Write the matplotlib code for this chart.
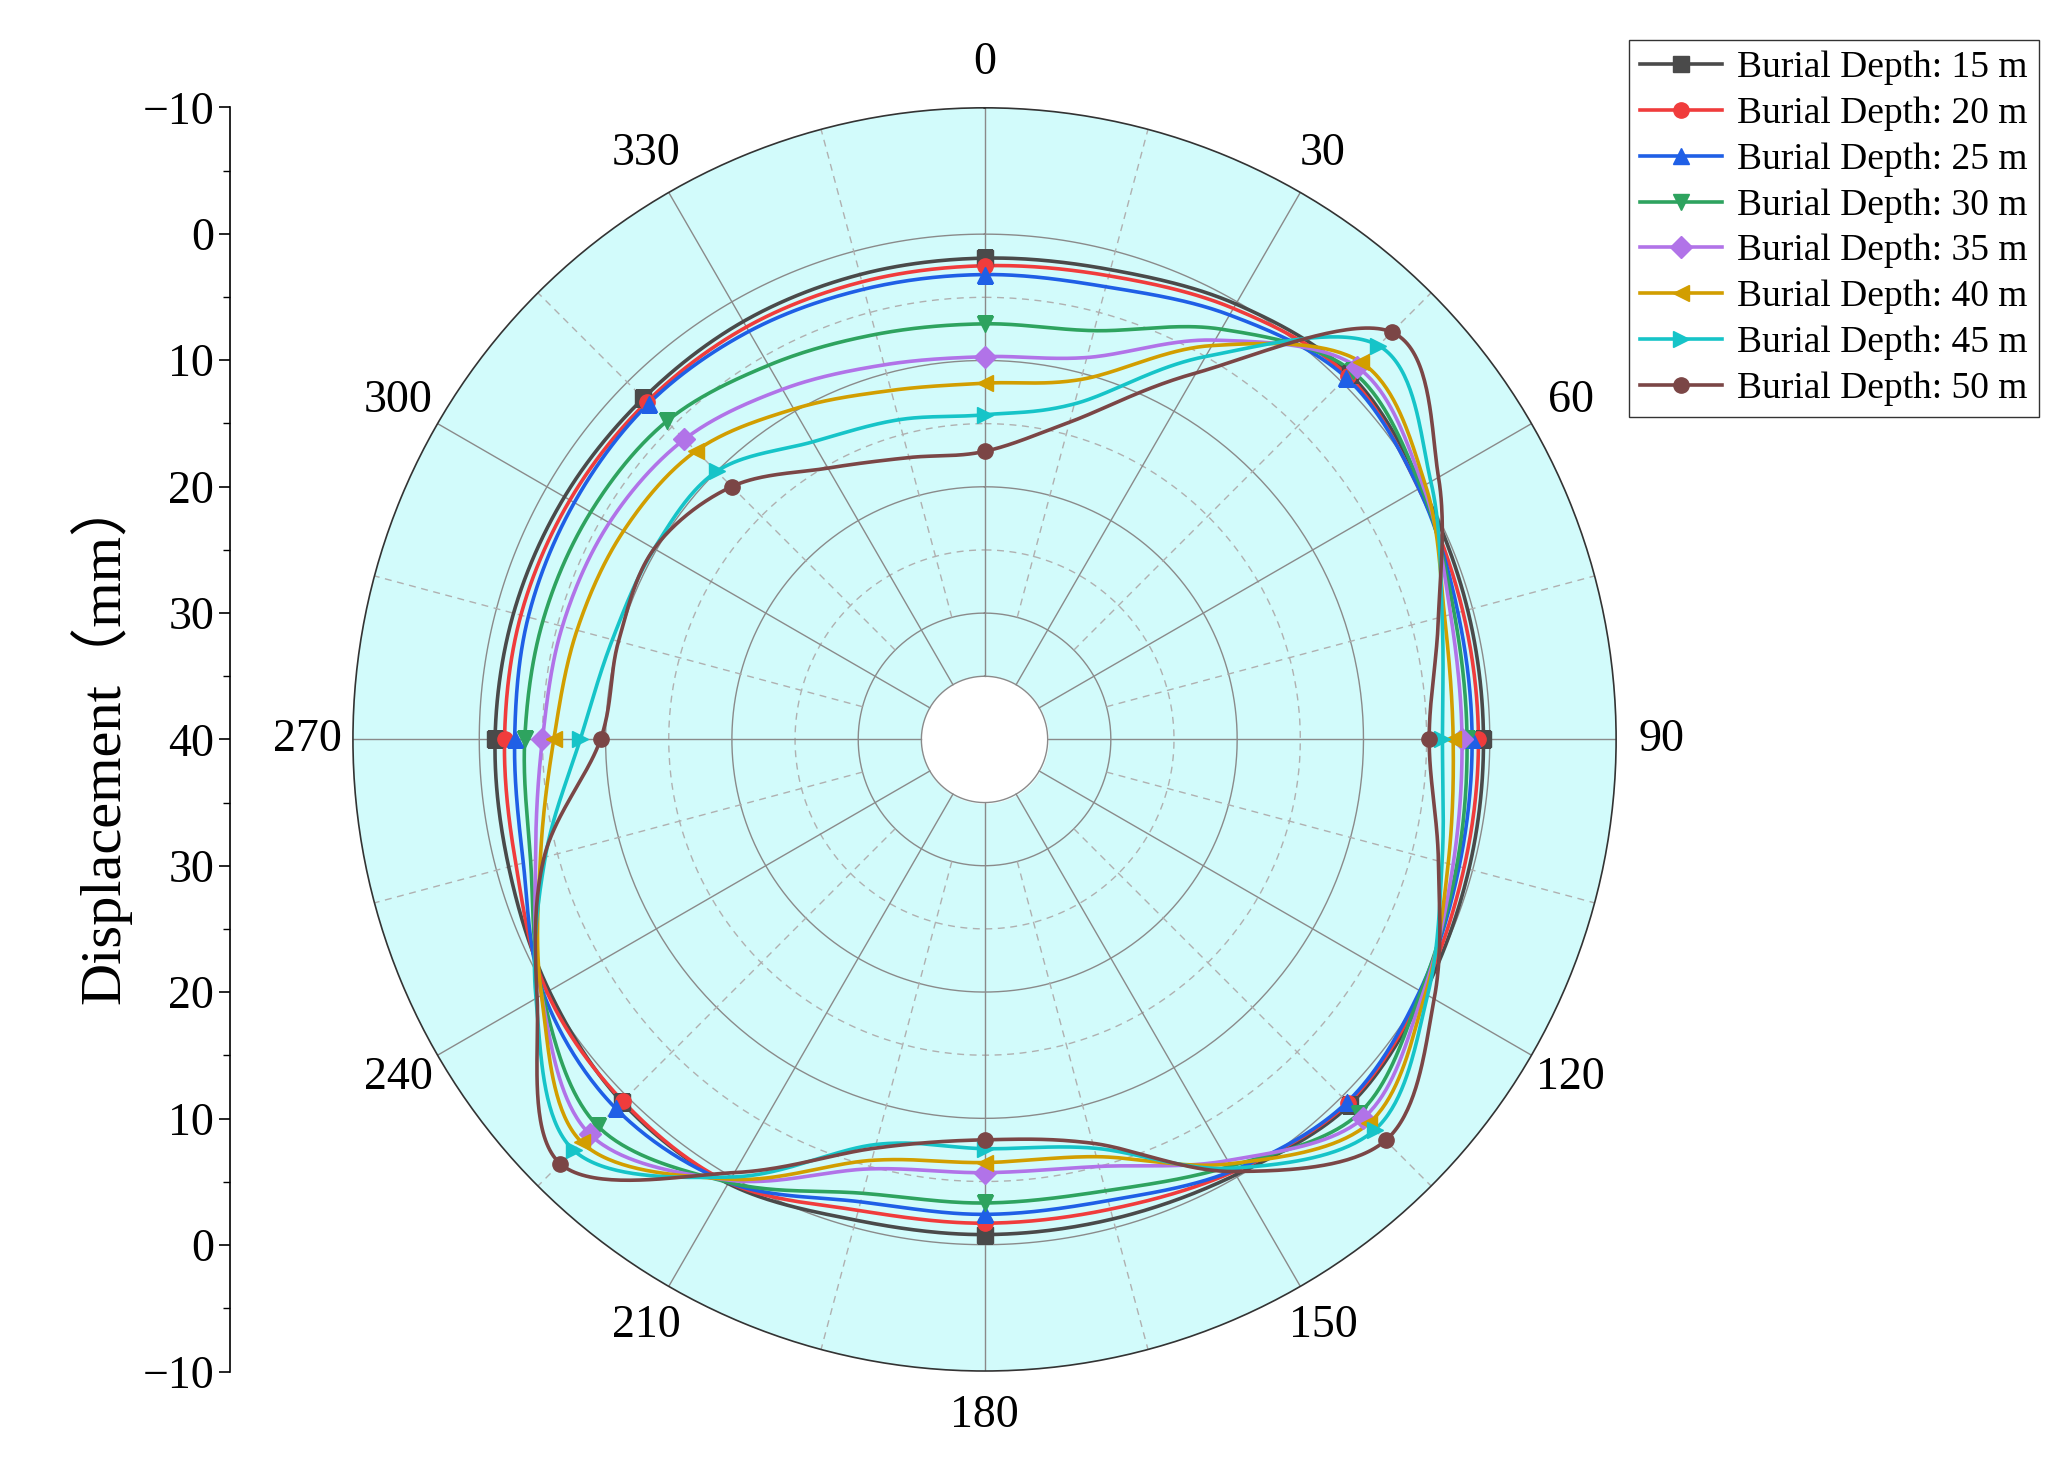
import numpy as np
import matplotlib
matplotlib.use("Agg")
import matplotlib.pyplot as plt

plt.rcParams['font.family'] = ['Liberation Serif', 'DejaVu Serif']

angles_deg = [0, 15, 30, 45, 60, 75, 90, 105, 120, 135, 150, 165,
              180, 195, 210, 225, 240, 255, 270, 285, 300, 315, 330, 345]
labels = ["Burial Depth: 15 m", "Burial Depth: 20 m", "Burial Depth: 25 m", "Burial Depth: 30 m",
          "Burial Depth: 35 m", "Burial Depth: 40 m", "Burial Depth: 45 m", "Burial Depth: 50 m"]
d15 = [1.9, 1.5, 0.2, -0.9, 0.0, 0.4, 0.5, 0.3, -0.2, -0.9, 0.2, 0.7, 0.8, 0.6, -0.6, -0.6, 0.2, 1.0, 1.25, 1.4, 1.6, 1.8, 1.8, 1.9]
d20 = [2.5, 2.0, 0.6, -0.7, 0.3, 0.8, 0.9, 0.7, 0.0, -0.7, 0.5, 1.5, 1.7, 1.4, -0.5, -0.5, 0.0, 1.6, 2.0, 2.0, 2.1, 2.2, 2.3, 2.5]
d25 = [3.2, 2.9, 1.2, -0.5, 0.3, 1.2, 1.4, 1.1, 0.2, -0.6, 0.6, 2.2, 2.4, 2.1, -0.5, -1.3, -0.3, 2.2, 2.8, 2.6, 2.5, 2.4, 2.7, 3.1]
d30 = [7.1, 6.5, 2.5, -1.2, 0.1, 1.5, 1.8, 1.3, 0.1, -1.9, 1.0, 3.0, 3.3, 2.8, -0.5, -3.3, -0.4, 2.8, 3.6, 3.8, 4.0, 4.4, 5.8, 6.8]
d35 = [9.7, 8.7, 3.5, -1.7, -0.1, 1.8, 2.2, 1.6, -0.1, -2.4, 1.5, 5.0, 5.7, 4.8, -0.3, -4.2, -0.5, 3.2, 5.0, 5.4, 5.7, 6.4, 8.0, 9.3]
d40 = [11.8, 10.5, 4.0, -2.2, -0.3, 2.3, 2.9, 2.0, -0.3, -3.0, 1.2, 5.8, 6.5, 5.5, -0.2, -5.1, -0.5, 3.6, 5.9, 6.6, 7.0, 7.7, 9.8, 11.4]
d45 = [14.3, 12.5, 5.0, -4.1, -0.8, 2.5, 3.75, 2.5, -0.5, -3.7, 0.8, 6.5, 7.6, 6.8, 0.0, -6.0, -1.0, 4.0, 8.0, 9.5, 9.8, 10.0, 12.8, 13.8]
d50 = [17.2, 14.0, 6.5, -5.6, -1.5, 2.8, 4.8, 2.8, -1.1, -4.9, 0.5, 6.9, 8.3, 6.5, 0.4, -7.5, -0.9, 3.9, 9.6, 10.0, 9.8, 11.7, 15.2, 16.9]
series = [d15, d20, d25, d30, d35, d40, d45, d50]
colors = ['#4a4a4a', '#f03c3c', '#1f5fe6', '#2ea35f', '#b173e8', '#d29e00', '#16c4c8', '#7b4646']
markers = ['s', 'o', '^', 'v', 'D', '<', '>', 'o']

RMAX = 40.0
RMIN = -10.0

def smooth(theta_deg, d, n=40):
    th = np.radians(theta_deg)
    rad = RMAX - np.asarray(d, float)
    P = np.column_stack([rad * np.sin(th), rad * np.cos(th)])
    N = len(P)
    out = []
    t = np.linspace(0, 1, n, endpoint=False)[:, None]
    for i in range(N):
        p0, p1, p2, p3 = P[(i - 1) % N], P[i], P[(i + 1) % N], P[(i + 2) % N]
        seg = 0.5 * ((2 * p1) + (-p0 + p2) * t + (2 * p0 - 5 * p1 + 4 * p2 - p3) * t**2
                     + (-p0 + 3 * p1 - 3 * p2 + p3) * t**3)
        out.append(seg)
    out.append(P[:1])
    Q = np.vstack(out)
    ang = np.arctan2(Q[:, 0], Q[:, 1])
    rr = np.hypot(Q[:, 0], Q[:, 1])
    return np.unwrap(ang), RMAX - rr

fig = plt.figure(figsize=(20.64, 14.70), dpi=100)
cx, cy, rw, rh = 0.477, 0.497, 0.306, 0.430
ax = fig.add_axes([cx - rw, cy - rh, 2 * rw, 2 * rh], projection='polar')
ax.set_theta_zero_location('N')
ax.set_theta_direction(-1)
ax.set_rlim(RMAX, RMIN)
ax.set_facecolor('#d2fbfb')
ax.grid(False)
ax.set_yticklabels([])
ax.set_yticks([])
ax.set_xticks(np.radians(np.arange(0, 360, 30)))
ax.set_xticklabels([str(a) for a in range(0, 360, 30)], fontsize=33)
ax.tick_params(axis='x', pad=22)
ax.spines['polar'].set_color('#333333')
ax.spines['polar'].set_linewidth(1.2)

full = np.linspace(0, 2 * np.pi, 400)
ax.fill_between(full, RMAX, 35, color='white', zorder=0.5)
for v in [0, 10, 20, 30, 35]:
    ax.plot(full, np.full_like(full, v), color='#8a8a8a', lw=1.0, zorder=1)
for v in [5, 15, 25]:
    ax.plot(full, np.full_like(full, v), color='#b0b0b0', lw=1.0, ls=(0, (5, 4)), zorder=1)
for a in range(0, 360, 30):
    ax.plot([np.radians(a)] * 2, [35, RMIN], color='#8a8a8a', lw=1.0, zorder=1)
for a in range(15, 360, 30):
    ax.plot([np.radians(a)] * 2, [30, RMIN], color='#b0b0b0', lw=1.0, ls=(0, (5, 4)), zorder=1)

for d, c, m, lab in zip(series, colors, markers, labels):
    ts, rs = smooth(angles_deg, d)
    ax.plot(ts, rs, color=c, lw=2.6, zorder=3)
    ax.plot(np.radians(angles_deg[::3]), d[::3], ls='none', marker=m, ms=11, color=c, zorder=4)
    ax.plot([], [], color=c, lw=2.6, marker=m, ms=11, label=lab)

lax = fig.add_axes([0.1116, cy - rh, 0.001, 2 * rh])
lax.set_ylim(-50, 50)
for s in ['top', 'right', 'bottom']:
    lax.spines[s].set_visible(False)
lax.set_xticks([])
tpos = np.arange(-50, 51, 10)
lax.set_yticks(tpos)
lax.set_yticklabels([str(int(40 - abs(t))).replace('-', '\u2212') for t in tpos], fontsize=33)
lax.set_yticks(np.arange(-45, 50, 10), minor=True)
lax.tick_params(axis='y', which='major', length=8, width=1.2)
lax.tick_params(axis='y', which='minor', length=5, width=1.0)
lax.set_ylabel("Displacement（mm）", fontsize=42,
               family=['Liberation Serif', 'Noto Sans CJK SC'], labelpad=8)
lax.spines['left'].set_linewidth(1.2)

leg = fig.legend(loc='upper right', bbox_to_anchor=(0.988, 0.973), fontsize=27,
                 frameon=True, fancybox=False, edgecolor='black', handlelength=2.2,
                 borderpad=0.3, labelspacing=0.3, handletextpad=0.4, borderaxespad=0)
leg.get_frame().set_linewidth(1.0)

fig.savefig('out.png', dpi=100)
